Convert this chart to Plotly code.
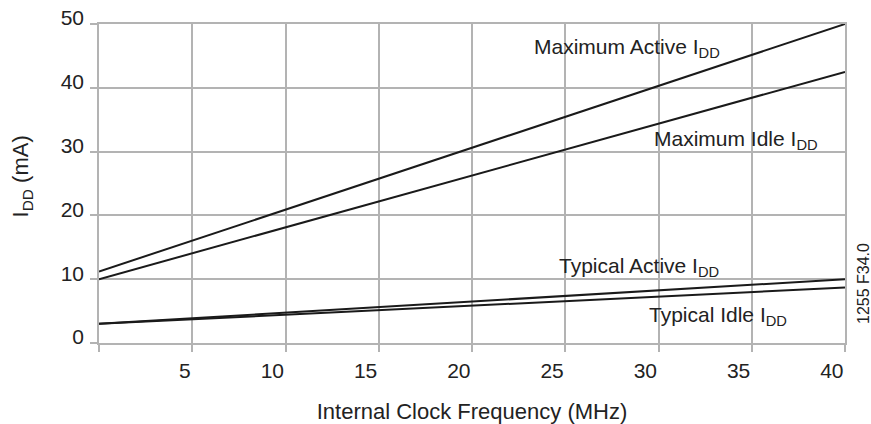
import plotly.graph_objects as go

# clock frequency (MHz) at both ends of each line
freq = [0, 40]

max_active = [11.2, 50.0]
max_idle = [10.0, 42.5]
typ_active = [3.0, 10.0]
typ_idle = [3.0, 8.7]

labels = ["Maximum Active I<sub>DD</sub>", "Maximum Idle I<sub>DD</sub>",
          "Typical Active I<sub>DD</sub>", "Typical Idle I<sub>DD</sub>"]
label_x = [23.2, 29.65, 24.55, 29.4]
label_y = [46.2, 31.8, 11.9, 4.2]

x_ticks = [0, 5, 10, 15, 20, 25, 30, 35, 40]
x_ticktext = ["", "5", "10", "15", "20", "25", "30", "35", "40"]
y_ticks = [0, 10, 20, 30, 40, 50]

FONT = "Liberation Sans, Arial, sans-serif"
GRID = "#b3b3b3"
INK = "#1a1a1a"
TXT = "#222222"

fig = go.Figure()
for ys in [max_active, max_idle, typ_active, typ_idle]:
    fig.add_trace(go.Scatter(x=freq, y=ys, mode="lines",
                             line=dict(color=INK, width=2),
                             showlegend=False, hoverinfo="skip"))

for text, x, y in zip(labels, label_x, label_y):
    fig.add_annotation(x=x, y=y, text=text, showarrow=False,
                       xanchor="left", yanchor="middle",
                       font=dict(family=FONT, size=21, color=TXT))

# y title sits a little above centre in the original, so place it by hand
fig.add_annotation(xref="paper", yref="paper", x=-0.102, y=0.522,
                   text="I<sub>DD</sub> (mA)", showarrow=False, textangle=-90,
                   xanchor="center", yanchor="middle",
                   font=dict(family=FONT, size=22, color=TXT))

# figure id at the right edge
fig.add_annotation(xref="paper", yref="paper", x=1.0, y=0.185, text="1255 F34.0",
                   showarrow=False, textangle=-90, xanchor="center",
                   yanchor="middle", xshift=19,
                   font=dict(family=FONT, size=16, color=TXT))

fig.update_layout(
    width=871, height=424,
    margin=dict(l=99, r=26, t=24, b=81),
    paper_bgcolor="white", plot_bgcolor="white",
    font=dict(family=FONT, size=21, color=TXT),
    xaxis=dict(
        range=[0, 40], tickvals=x_ticks, ticktext=x_ticktext,
        showgrid=True, gridcolor=GRID, gridwidth=1.5,
        showline=True, linecolor=GRID, linewidth=1.5, mirror=True,
        ticks="outside", ticklen=7, tickcolor=GRID, tickwidth=1.5,
        ticklabelposition="outside left", ticklabelstandoff=8,
        ticklabeloverflow="allow",
        zeroline=False, automargin=False,
        title=dict(text="Internal Clock Frequency (MHz)", standoff=24,
                   font=dict(size=22)),
    ),
    yaxis=dict(
        range=[0, 50], tickvals=y_ticks,
        showgrid=True, gridcolor=GRID, gridwidth=1.5,
        showline=True, linecolor=GRID, linewidth=1.5, mirror=True,
        ticks="outside", ticklen=7, tickcolor=GRID, tickwidth=1.5,
        ticklabelstandoff=2, ticklabelshift=-6,
        ticklabeloverflow="allow",
        zeroline=False, automargin=False,
    ),
)

# drop the default 8px page margin so the figure fills the window
fig.write_html("out.html", config={"displayModeBar": False},
               post_script="document.body.style.margin = '0';")
